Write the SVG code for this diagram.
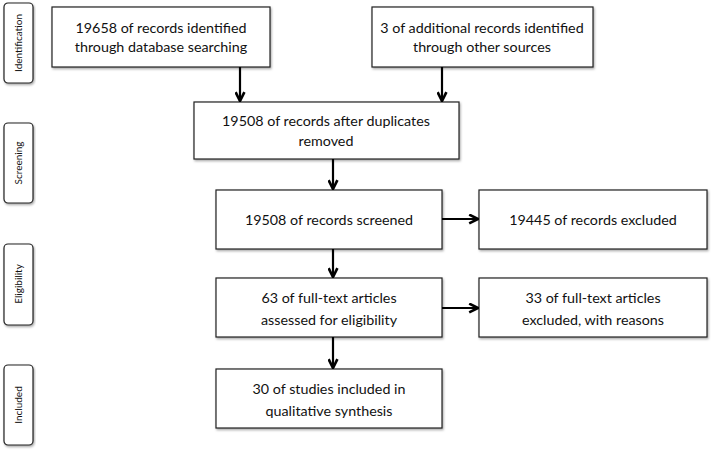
<svg xmlns="http://www.w3.org/2000/svg" width="711" height="452" viewBox="0 0 711 452">
<defs>
<marker id="ah" viewBox="0 0 10 10" refX="9" refY="5" markerWidth="11" markerHeight="11" markerUnits="userSpaceOnUse" orient="auto">
<polyline points="1,1 9,5 1,9" fill="none" stroke="#000" stroke-width="2.4"/>
</marker>
<filter id="sh" x="-10%" y="-10%" width="120%" height="130%">
<feDropShadow dx="1" dy="1.5" stdDeviation="0.8" flood-color="#000" flood-opacity="0.35"/>
</filter>
</defs>
<style>
.box{fill:#fff;stroke:#222;stroke-width:1.2;filter:url(#sh)}
.side{fill:#fff;stroke:#222;stroke-width:1.2;filter:url(#sh)}
.t{font-family:Lato,"Open Sans",sans-serif;font-size:14.3px;fill:#111;text-anchor:middle}
.s{font-family:Lato,"Open Sans",sans-serif;font-size:10px;fill:#111;text-anchor:middle}
.c{stroke:#000;stroke-width:2.2;fill:none;marker-end:url(#ah)}
</style>
<rect width="711" height="452" fill="#fff"/>
<g id="side-identification"><rect class="side" x="4" y="3" width="29" height="80" rx="4"/><text class="s" transform="translate(22,43) rotate(-90)">Identification</text></g>
<g id="side-screening"><rect class="side" x="4" y="123" width="29" height="80" rx="4"/><text class="s" transform="translate(22,163) rotate(-90)">Screening</text></g>
<g id="side-eligibility"><rect class="side" x="4" y="244" width="29" height="81" rx="4"/><text class="s" transform="translate(22,284) rotate(-90)">Eligibility</text></g>
<g id="side-included"><rect class="side" x="4" y="365" width="29" height="80" rx="4"/><text class="s" transform="translate(22,405) rotate(-90)">Included</text></g>

<g id="n1"><rect class="box" x="52" y="7" width="218" height="60"/><text class="t" x="161" y="33">19658 of records identified</text><text class="t" x="161" y="52">through database searching</text></g>
<g id="n2"><rect class="box" x="372" y="7" width="221" height="60"/><text class="t" x="482" y="33">3 of additional records identified</text><text class="t" x="482" y="52">through other sources</text></g>
<g id="n3"><rect class="box" x="194" y="102" width="265" height="57"/><text class="t" x="326" y="126">19508 of records after duplicates</text><text class="t" x="326" y="146">removed</text></g>
<g id="n4"><rect class="box" x="216" y="190" width="226" height="59"/><text class="t" x="329" y="225">19508 of records screened</text></g>
<g id="n5"><rect class="box" x="479" y="190" width="228" height="59"/><text class="t" x="593" y="225">19445 of records excluded</text></g>
<g id="n6"><rect class="box" x="216" y="278" width="226" height="59"/><text class="t" x="329" y="303">63 of full-text articles</text><text class="t" x="329" y="325">assessed for eligibility</text></g>
<g id="n7"><rect class="box" x="479" y="278" width="228" height="59"/><text class="t" x="593" y="303">33 of full-text articles</text><text class="t" x="593" y="325">excluded, with reasons</text></g>
<g id="n8"><rect class="box" x="216" y="369" width="226" height="59"/><text class="t" x="329" y="394">30 of studies included in</text><text class="t" x="329" y="416">qualitative synthesis</text></g>

<g id="connectors">
<line class="c" x1="240" y1="67" x2="240" y2="101"/>
<line class="c" x1="442" y1="67" x2="442" y2="101"/>
<line class="c" x1="333" y1="159" x2="333" y2="189"/>
<line class="c" x1="442" y1="219" x2="478" y2="219"/>
<line class="c" x1="333" y1="249" x2="333" y2="277"/>
<line class="c" x1="442" y1="308" x2="478" y2="308"/>
<line class="c" x1="333" y1="337" x2="333" y2="368"/>
</g>
</svg>
